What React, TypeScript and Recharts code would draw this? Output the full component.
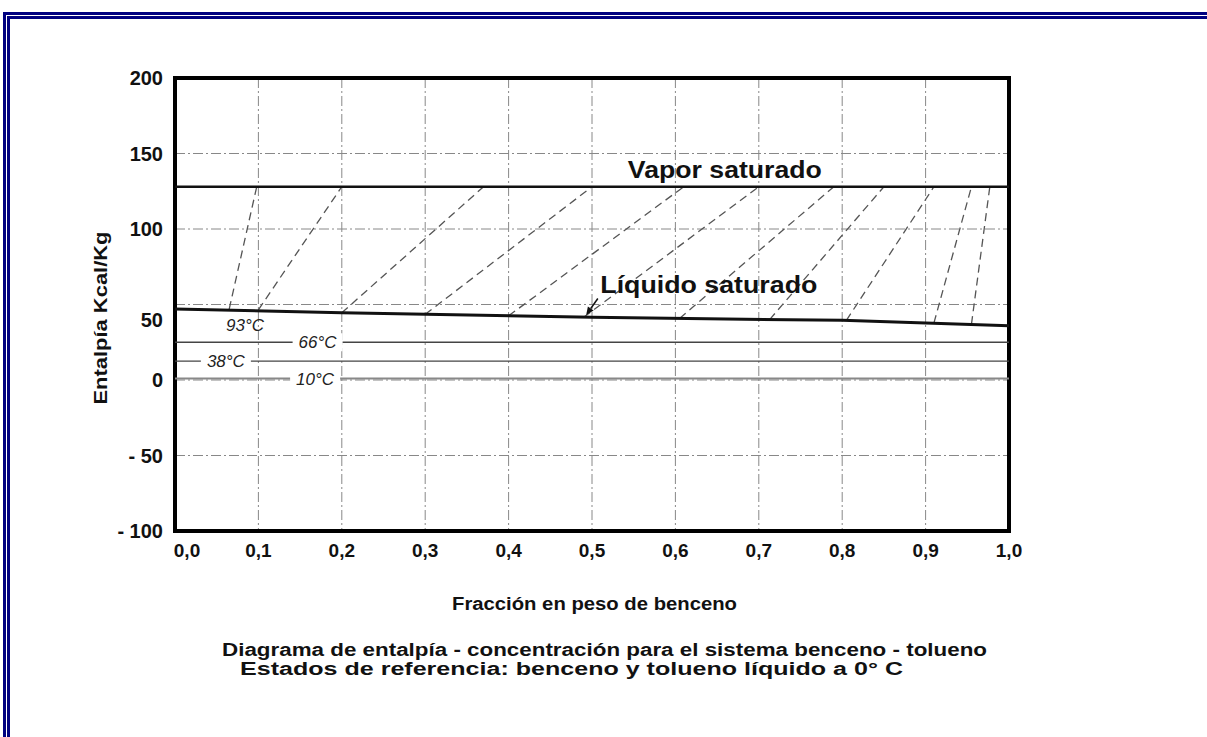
import React from "react";
import { LineChart, Line, XAxis, YAxis, CartesianGrid, ReferenceLine, ReferenceArea, ReferenceDot } from "recharts";

// fracción en peso de benceno / entalpía (Kcal/Kg)
const xTicks = [0, 0.1, 0.2, 0.3, 0.4, 0.5, 0.6, 0.7, 0.8, 0.9, 1.0];
const yTicks = [-100, -50, 0, 50, 100, 150, 200];

const vaporX = [0, 1];
const vaporH = [128, 128];

const liquidX = [0, 0.2, 0.5, 0.8, 1.0];
const liquidH = [47, 44.5, 41.5, 39.5, 36];

// líneas de unión: liquido -> vapor
const tieLiqX = [0.065, 0.1, 0.2, 0.3, 0.4, 0.49, 0.605, 0.713, 0.805, 0.91, 0.955];
const tieLiqH = [47, 46.5, 44.5, 43.5, 42.5, 41.5, 40.8, 40, 39.5, 37.8, 37];
const tieVapX = [0.098, 0.2, 0.37, 0.5, 0.61, 0.7, 0.79, 0.85, 0.91, 0.955, 0.977];

// isotermas del líquido
const isoH = [25, 12.5, 1];
const tempNames = ["93°C", "66°C", "38°C", "10°C"];
const tempX = [0.084, 0.171, 0.061, 0.168];
const tempH = [36.5, 25, 12.5, 1];

const FONT = '"Liberation Sans", Arial, Helvetica, sans-serif';

const vaporData = vaporX.map((x, i) => ({ x, h: vaporH[i] }));
const liquidData = liquidX.map((x, i) => ({ x, h: liquidH[i] }));
const tieData = tieLiqX.map((x, i) => [
  { x, h: tieLiqH[i] },
  { x: tieVapX[i], h: vaporH[0] },
]);

const fmtY = (v: number) => (v < 0 ? "- " + Math.abs(v) : String(v));
const fmtX = (v: number) => v.toFixed(1).replace(".", ",");

const YTick = (props: any) => {
  const { x, y, payload } = props;
  const nudge = payload.value === 50 ? 15 : 0;
  return (
    <text x={x} y={y + nudge} dy="0.36em" textAnchor="end" fontFamily={FONT} fontWeight="bold" fontSize={20} fill="#111">
      {fmtY(payload.value)}
    </text>
  );
};

const XTick = (props: any) => {
  const { x, y, payload, index } = props;
  return (
    <text x={x + (index === 0 ? 12 : 0)} y={y} dy="0.71em" textAnchor="middle" fontFamily={FONT} fontWeight="bold" fontSize={19} fill="#111">
      {fmtX(payload.value)}
    </text>
  );
};

const tempShape = (name: string, blank: boolean) => (p: any) => (
  <g>
    {blank && <rect x={p.cx - 25} y={p.cy - 9} width={50} height={18} fill="#fff" />}
    <text x={p.cx} y={p.cy} dy="0.36em" textAnchor="middle" fontFamily={FONT} fontStyle="italic" fontSize={17} fill="#222">
      {name}
    </text>
  </g>
);

const bigLabel = (txt: string, len: number) => (p: any) => (
  <text x={p.cx} y={p.cy} fontFamily={FONT} fontWeight="bold" fontSize={23} fill="#111" textLength={len} lengthAdjust="spacingAndGlyphs">
    {txt}
  </text>
);

const arrowShape = (p: any) => {
  const { x1, y1, x2, y2 } = p;
  const len = Math.hypot(x2 - x1, y2 - y1) || 1;
  const ux = (x2 - x1) / len;
  const uy = (y2 - y1) / len;
  const bx = x2 - ux * 8;
  const by = y2 - uy * 8;
  return (
    <g>
      <line x1={x1} y1={y1} x2={bx} y2={by} stroke="#111" strokeWidth={1.5} />
      <polygon points={`${x2},${y2} ${bx - uy * 3.5},${by + ux * 3.5} ${bx + uy * 3.5},${by - ux * 3.5}`} fill="#111" />
    </g>
  );
};

export default function App() {
  return (
    <div style={{ position: "absolute", left: 0, top: 0, width: 1207, height: 737, overflow: "hidden", background: "#fff", fontFamily: FONT }}>
      <div style={{ position: "absolute", left: 3, top: 12, width: 1400, height: 900, border: "3px solid #000080" }} />
      <div style={{ position: "absolute", left: 7, top: 16, width: 1400, height: 900, border: "3px solid #000080" }} />

      <div style={{ position: "absolute", left: 0, top: 0 }}>
        <LineChart width={1207} height={737} margin={{ top: 78, right: 198, bottom: 166, left: 115 }}>
          <CartesianGrid stroke="#888" strokeWidth={1} strokeDasharray="10 3 2 3" />
          <XAxis
            dataKey="x"
            type="number"
            domain={[0, 1]}
            ticks={xTicks}
            height={40}
            axisLine={false}
            tickLine={false}
            tickSize={0}
            tickMargin={13}
            tick={<XTick />}
            interval={0}
            allowDataOverflow
          />
          <YAxis
            type="number"
            domain={[-100, 200]}
            ticks={yTicks}
            width={60}
            axisLine={false}
            tickLine={false}
            tickSize={0}
            tickMargin={12}
            tick={<YTick />}
            interval={0}
            allowDataOverflow
          />

          {isoH.map((h, i) => (
            <ReferenceLine key={"iso" + i} y={h} stroke={i === 2 ? "#888" : "#444"} strokeWidth={i === 2 ? 2 : 1.3} />
          ))}

          {tieData.map((d, i) => (
            <Line
              key={"tie" + i}
              data={d}
              dataKey="h"
              type="linear"
              stroke="#555"
              strokeWidth={1.3}
              strokeDasharray="8 5"
              dot={false}
              activeDot={false}
              isAnimationActive={false}
            />
          ))}

          <Line data={vaporData} dataKey="h" type="linear" stroke="#111" strokeWidth={2.6} dot={false} activeDot={false} isAnimationActive={false} />
          <Line data={liquidData} dataKey="h" type="linear" stroke="#111" strokeWidth={3} dot={false} activeDot={false} isAnimationActive={false} />

          {tempNames.map((n, i) => (
            <ReferenceDot key={"t" + i} x={tempX[i]} y={tempH[i]} r={0} shape={tempShape(n, i > 0)} />
          ))}

          <ReferenceDot x={0.543} y={134} r={0} shape={bigLabel("Vapor saturado", 194)} />
          <ReferenceDot x={0.51} y={57.5} r={0} shape={bigLabel("Líquido saturado", 217)} />
          <ReferenceLine segment={[{ x: 0.507, y: 54 }, { x: 0.493, y: 43 }]} shape={arrowShape} />

          <ReferenceArea x1={0} x2={1} y1={-100} y2={200} fill="none" stroke="#000" strokeWidth={4} ifOverflow="visible" />
        </LineChart>
      </div>

      <svg width={1207} height={737} style={{ position: "absolute", left: 0, top: 0, pointerEvents: "none" }}>
        <text x={107} y={318} transform="rotate(-90 107 318)" textAnchor="middle" fontFamily={FONT} fontWeight="bold" fontSize={18} fill="#111" textLength={173} lengthAdjust="spacingAndGlyphs">
          Entalpía Kcal/Kg
        </text>
        <text x={452} y={610} fontFamily={FONT} fontWeight="bold" fontSize={18} fill="#111" textLength={285} lengthAdjust="spacingAndGlyphs">
          Fracción en peso de benceno
        </text>
        <text x={222} y={656} fontFamily={FONT} fontWeight="bold" fontSize={18} fill="#111" textLength={765} lengthAdjust="spacingAndGlyphs">
          Diagrama de entalpía - concentración para el sistema benceno - tolueno
        </text>
        <text x={240} y={675} fontFamily={FONT} fontWeight="bold" fontSize={18} fill="#111" textLength={663} lengthAdjust="spacingAndGlyphs">
          Estados de referencia: benceno y tolueno líquido  a 0° C
        </text>
      </svg>
    </div>
  );
}
